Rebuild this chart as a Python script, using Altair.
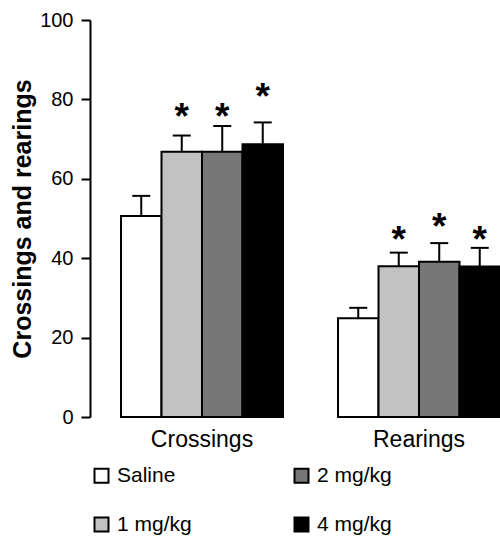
import altair as alt
import pandas as pd

groups = ["Crossings"] * 4 + ["Rearings"] * 4
doses = ["Saline", "1 mg/kg", "2 mg/kg", "4 mg/kg"] * 2
means = [50.6, 66.8, 66.8, 68.7, 24.9, 38.0, 39.1, 37.9]
upper = [55.7, 70.9, 73.3, 74.2, 27.5, 41.4, 43.8, 42.6]
star_pos = [None, 77.6, 77.6, 82.6, None, 46.5, 50.0, 46.5]
star_txt = ["", "*", "*", "*", "", "*", "*", "*"]

dose_order = ["Saline", "1 mg/kg", "2 mg/kg", "4 mg/kg"]
dose_colors = ["#ffffff", "#c2c2c2", "#777777", "#000000"]
y_ticks = [0, 20, 40, 60, 80, 100]

df = pd.DataFrame({
    "group": groups, "dose": doses, "mean": means, "upper": upper,
    "star": star_pos, "txt": star_txt,
})

FONT = "Liberation Sans"

x_enc = alt.X(
    "group:N",
    scale=alt.Scale(range=[31, 410], paddingInner=0.2535, paddingOuter=0),
    axis=alt.Axis(title=None, domain=False, ticks=False, labelAngle=0,
                  labelFontSize=23, labelFont=FONT, labelColor="black",
                  labelPadding=11),
)
xo_enc = alt.XOffset("dose:N", sort=dose_order,
                     scale=alt.Scale(paddingInner=0, paddingOuter=0))
y_scale = alt.Scale(domain=[0, 100], nice=False)

base = alt.Chart(df)

bars = base.mark_bar(stroke="black", strokeWidth=2).encode(
    x=x_enc,
    xOffset=xo_enc,
    y=alt.Y("mean:Q", scale=y_scale,
            axis=alt.Axis(title="Crossings and rearings", values=y_ticks,
                          grid=False, domainColor="black", domainWidth=2,
                          tickColor="black", tickWidth=2, tickSize=9,
                          labelFontSize=20, labelFont=FONT, labelColor="black",
                          labelPadding=8, titleFont=FONT, titleFontSize=25,
                          titleFontWeight="bold", titleColor="black",
                          titlePadding=4)),
    color=alt.Color("dose:N",
                    scale=alt.Scale(domain=dose_order, range=dose_colors),
                    legend=alt.Legend(
                        orient="none", legendX=1, legendY=445, columns=2,
                        title=None, symbolType="square", symbolSize=196,
                        symbolStrokeColor="black", symbolStrokeWidth=2,
                        symbolOpacity=1,
                        labelFontSize=21, labelFont=FONT, labelColor="black",
                        labelOffset=5, columnPadding=98, rowPadding=26,
                        padding=0)),
)

rules = base.mark_rule(color="black", strokeWidth=2).encode(
    x=x_enc, xOffset=xo_enc,
    y=alt.Y("mean:Q", scale=y_scale), y2="upper:Q",
)

caps = base.mark_tick(color="black", thickness=2, size=18, opacity=1).encode(
    x=x_enc, xOffset=xo_enc,
    y=alt.Y("upper:Q", scale=y_scale),
)

stars = base.mark_text(font=FONT, fontSize=37, fontWeight="bold",
                       baseline="middle", dy=9, color="black").encode(
    x=x_enc, xOffset=xo_enc,
    y=alt.Y("star:Q", scale=y_scale),
    text="txt:N",
)

chart = alt.layer(bars, rules, caps, stars).properties(
    width=410, height=397,
    autosize=alt.AutoSizeParams(type="none"),
    padding={"left": 90, "top": 20, "right": 0, "bottom": 122},
    background="white",
).configure_view(stroke=None)

chart.save("out.html", embed_options={"renderer": "svg", "actions": False})
